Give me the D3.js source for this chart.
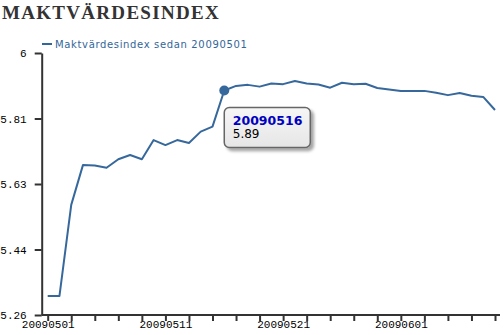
<!DOCTYPE html>
<html>
<head>
<meta charset="utf-8">
<script src="https://cdnjs.cloudflare.com/ajax/libs/d3/7.8.5/d3.min.js"></script>
<style>
  body { margin: 0; background: #fff; }
  svg { display: block; }
  .title { font-family: "Liberation Serif", serif; font-weight: bold; font-size: 19px; fill: #333; letter-spacing: 1.3px; }
  .legend { font-family: "DejaVu Sans", Verdana, sans-serif; font-size: 10px; fill: #336699; letter-spacing: 0.65px; }
  .axis text { font-family: "Liberation Mono", "Courier New", monospace; font-size: 11px; fill: #000; }
  .axis path, .axis line { stroke: #333; stroke-width: 2px; }
  .line { fill: none; stroke: #36689c; stroke-width: 2px; stroke-linejoin: round; }
  .tip-date { font-family: "DejaVu Sans", Verdana, sans-serif; font-weight: bold; font-size: 12.5px; fill: #0000c0; }
  .tip-val { font-family: "DejaVu Sans", Verdana, sans-serif; font-size: 12px; fill: #000; }
</style>
</head>
<body>
<svg id="chart" width="504" height="335"></svg>
<script>
// index value per day
const values = [
  5.314, 5.314, 5.571, 5.684, 5.682, 5.676, 5.700, 5.712, 5.700, 5.754,
  5.740, 5.754, 5.746, 5.778, 5.792, 5.894, 5.907, 5.910, 5.905, 5.914,
  5.912, 5.921, 5.914, 5.911, 5.902, 5.916, 5.912, 5.913, 5.901, 5.897,
  5.893, 5.893, 5.893, 5.888, 5.881, 5.887, 5.879, 5.876, 5.839
];
const xLabelIdx = [0, 10, 20, 30];
const xLabels = ["20090501", "20090511", "20090521", "20090601"];
const yTicks = [5.26, 5.445, 5.63, 5.815, 6];
const yLabels = ["5.26", "5.44", "5.63", "5.81", "6"];
const hiIdx = 15;
const hiDate = "20090516";
const legendText = "Maktvärdesindex sedan 20090501";

const svg = d3.select("#chart");

svg.append("text").attr("class", "title")
  .attr("x", 2).attr("y", 19)
  .text("MAKTVÄRDESINDEX");

const x = d3.scaleLinear().domain([0, values.length - 1]).range([47.7, 495]);
const y = d3.scaleLinear().domain([5.26, 6]).range([315, 53]);

// legend
svg.append("line").attr("x1", 42).attr("x2", 52).attr("y1", 44).attr("y2", 44)
  .attr("stroke", "#336699").attr("stroke-width", 2);
svg.append("text").attr("class", "legend").attr("x", 55).attr("y", 48).text(legendText);

// axes
const evenTicks = d3.range(0, values.length, 2);
const xAxis = d3.axisBottom(x)
  .tickValues(evenTicks)
  .tickSize(6)
  .tickSizeOuter(0)
  .tickFormat(d => {
    const k = xLabelIdx.indexOf(d);
    return k >= 0 ? xLabels[k] : "";
  });
const gx = svg.append("g").attr("class", "axis")
  .attr("transform", "translate(0,315)")
  .call(xAxis);
gx.select(".domain").attr("d", "M41.7,0H500");
gx.selectAll("text").attr("dy", "0.55em").attr("y", 7);

const yAxis = d3.axisLeft(y)
  .tickValues(yTicks)
  .tickSize(7)
  .tickSizeOuter(0)
  .tickFormat((d, i) => yLabels[i]);
const gy = svg.append("g").attr("class", "axis")
  .attr("transform", "translate(41.7,0)")
  .call(yAxis);
gy.selectAll("text").attr("x", -15);

// line
const line = d3.line().x((d, i) => x(i)).y(d => y(d));
svg.append("path").datum(values).attr("class", "line").attr("d", line);

// highlighted point + tooltip
const px = x(hiIdx), py = y(values[hiIdx]);
svg.append("circle").attr("cx", px).attr("cy", py).attr("r", 5).attr("fill", "#36689c");

const defs = svg.append("defs");
const f = defs.append("filter").attr("id", "shadow").attr("x", "-20%").attr("y", "-20%")
  .attr("width", "150%").attr("height", "150%");
f.append("feDropShadow").attr("dx", 3).attr("dy", 3).attr("stdDeviation", 1.5)
  .attr("flood-color", "#000").attr("flood-opacity", 0.35);
const grad = defs.append("linearGradient").attr("id", "tipfill")
  .attr("x1", 0).attr("y1", 0).attr("x2", 0).attr("y2", 1);
grad.append("stop").attr("offset", "0%").attr("stop-color", "#f6f6f6");
grad.append("stop").attr("offset", "100%").attr("stop-color", "#e6e6e6");

const tip = svg.append("g").attr("transform", `translate(${px},${py + 17})`);
tip.append("rect").attr("x", 0).attr("y", 0).attr("width", 86).attr("height", 40)
  .attr("rx", 5).attr("fill", "url(#tipfill)").attr("stroke", "#666")
  .attr("stroke-width", 1.5).attr("filter", "url(#shadow)");
tip.append("text").attr("class", "tip-date").attr("x", 8.5).attr("y", 17).text(hiDate);
tip.append("text").attr("class", "tip-val").attr("x", 8.5).attr("y", 30.5)
  .text(values[hiIdx].toFixed(2));
</script>
</body>
</html>
